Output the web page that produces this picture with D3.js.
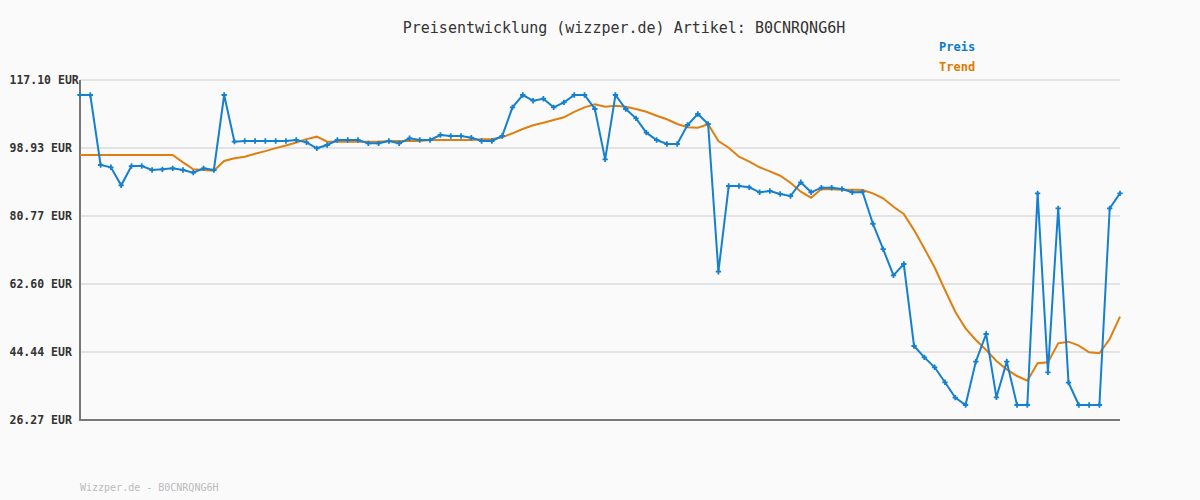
<!DOCTYPE html>
<html>
<head>
<meta charset="utf-8">
<script src="https://cdn.jsdelivr.net/npm/d3@7"></script>
<style>
  body { margin: 0; background: #fafafa; }
  svg { display: block; }
</style>
</head>
<body>
<svg id="canvas"></svg>
<script>
// Preis values per point
let price = [
  113.09, 113.09, 94.39, 93.78, 88.96, 94.12, 94.12, 93.06, 93.24, 93.5,
  93.06, 92.34, 93.5, 93.06, 113.09, 100.62, 100.8, 100.8, 100.8, 100.8,
  100.8, 101.07, 100.45, 98.85, 99.74, 101.07, 101.07, 101.07, 100.18, 100.18,
  100.8, 100.18, 101.53, 101.07, 101.07, 102.41, 102.14, 102.14, 101.7, 100.8,
  100.8, 102.14, 109.8, 113.09, 111.57, 112.1, 109.8, 111.14, 113.09, 113.09,
  109.35, 95.9, 113.09, 109.35, 106.86, 103.03, 101.07, 100.0, 100.0, 105.08,
  108.02, 105.35, 65.89, 88.78, 88.78, 88.43, 87.1, 87.45, 86.65, 86.11,
  89.77, 87.1, 88.33, 88.33, 87.98, 87.1, 87.2, 78.7, 71.9, 64.9,
  67.94, 46.04, 43.0, 40.35, 36.34, 32.24, 30.28, 41.86, 49.24, 32.33,
  41.86, 30.28, 30.28, 86.83, 39.0, 82.82, 36.24, 30.28, 30.28, 30.28,
  82.82, 86.83
]

// Trend values per point
let trend = [
  97.06, 97.06, 97.06, 97.06, 97.06, 97.06, 97.06, 97.06, 97.06, 97.06,
  95.1, 93.24, 93.06, 92.87, 95.46, 96.18, 96.6, 97.4, 98.1, 98.9,
  99.6, 100.4, 101.3, 101.96, 100.62, 100.62, 100.62, 100.62, 100.62, 100.62,
  100.8, 100.8, 100.8, 100.8, 101.07, 101.07, 101.07, 101.07, 101.07, 101.3,
  101.3, 101.8, 102.86, 104.0, 105.0, 105.7, 106.4, 107.14, 108.6, 109.8,
  110.6, 109.97, 110.24, 109.97, 109.35, 108.6, 107.56, 106.6, 105.35, 104.46,
  104.36, 105.26, 100.8, 99.0, 96.6, 95.3, 93.78, 92.7, 91.53, 89.66,
  87.25, 85.66, 88.0, 87.9, 87.8, 87.75, 87.71, 86.83, 85.5, 83.25,
  81.3, 77.0, 72.1, 67.0, 61.0, 55.2, 50.77, 47.64, 44.97, 42.03,
  39.81, 38.02, 36.77, 41.42, 41.69, 46.76, 47.19, 46.13, 44.36, 44.09,
  47.91, 53.87
]

let yTicks = [26.27, 44.44, 62.60, 80.77, 98.93, 117.10]

let title = 'Preisentwicklung (wizzper.de) Artikel: B0CNRQNG6H'
let footer = 'Wizzper.de - B0CNRQNG6H'

let width = 1200
let height = 500
let plotLeft = 80
let plotRight = 1120
let plotTop = 80
let plotBottom = 420

let blue = '#1580cf'
let orange = '#e07f10'
let mono = '"DejaVu Sans Mono", "Liberation Mono", monospace'

let canvas = d3.select('#canvas')
  .attr('width', width)
  .attr('height', height)

canvas.append('rect')
  .attr('width', width)
  .attr('height', height)
  .attr('fill', '#fafafa')

let xScale = d3.scaleLinear()
  .domain([0, price.length - 1])
  .range([plotLeft, plotRight])

let yScale = d3.scaleLinear()
  .domain([yTicks[0], yTicks[yTicks.length - 1]])
  .range([plotBottom, plotTop])

/* grid */
canvas.append('g')
  .selectAll('line')
  .data(yTicks)
  .enter()
  .append('line')
  .attr('x1', plotLeft)
  .attr('x2', plotRight)
  .attr('y1', d => yScale(d))
  .attr('y2', d => yScale(d))
  .attr('stroke', '#e3e3e3')
  .attr('stroke-width', 2)

/* y axis - labels are left aligned in the original */
let yAxis = canvas.append('g')
  .attr('transform', `translate(${plotLeft},0)`)
  .call(d3.axisLeft(yScale)
    .tickValues(yTicks)
    .tickSize(0)
    .tickFormat(d => d.toFixed(2) + ' EUR'))
yAxis.select('.domain').remove()
yAxis.selectAll('text')
  .attr('x', 9.5 - plotLeft)
  .attr('text-anchor', 'start')
  .attr('font-family', mono)
  .attr('font-size', 11.5)
  .attr('font-weight', 'bold')
  .attr('fill', '#333')

canvas.append('line')
  .attr('x1', plotLeft).attr('x2', plotLeft)
  .attr('y1', plotTop).attr('y2', plotBottom + 1)
  .attr('stroke', '#777')
  .attr('stroke-width', 2)

canvas.append('line')
  .attr('x1', plotLeft - 1).attr('x2', plotRight)
  .attr('y1', plotBottom).attr('y2', plotBottom)
  .attr('stroke', '#777')
  .attr('stroke-width', 2)

/* lines */
let line = d3.line()
  .x((d, i) => xScale(i))
  .y(d => yScale(d))

canvas.append('path')
  .datum(trend)
  .attr('d', line)
  .attr('fill', 'none')
  .attr('stroke', orange)
  .attr('stroke-width', 2)

canvas.append('path')
  .datum(price)
  .attr('d', line)
  .attr('fill', 'none')
  .attr('stroke', blue)
  .attr('stroke-width', 2)

canvas.append('g')
  .selectAll('path')
  .data(price)
  .enter()
  .append('path')
  .attr('transform', (d, i) => `translate(${xScale(i)},${yScale(d)})`)
  .attr('d', d3.symbol(d3.symbolCross).size(16))
  .attr('fill', blue)

/* texts */
canvas.append('text')
  .attr('x', 624)
  .attr('y', 33)
  .attr('text-anchor', 'middle')
  .attr('font-family', mono)
  .attr('font-size', 15)
  .attr('fill', '#333')
  .text(title)

canvas.append('text')
  .attr('x', 939)
  .attr('y', 51)
  .attr('font-family', mono)
  .attr('font-size', 12)
  .attr('font-weight', 'bold')
  .attr('fill', '#0a7acc')
  .text('Preis')

canvas.append('text')
  .attr('x', 939)
  .attr('y', 71)
  .attr('font-family', mono)
  .attr('font-size', 12)
  .attr('font-weight', 'bold')
  .attr('fill', '#e07a00')
  .text('Trend')

canvas.append('text')
  .attr('x', 80)
  .attr('y', 491)
  .attr('font-family', mono)
  .attr('font-size', 10)
  .attr('fill', '#bbb')
  .text(footer)
</script>
</body>
</html>
